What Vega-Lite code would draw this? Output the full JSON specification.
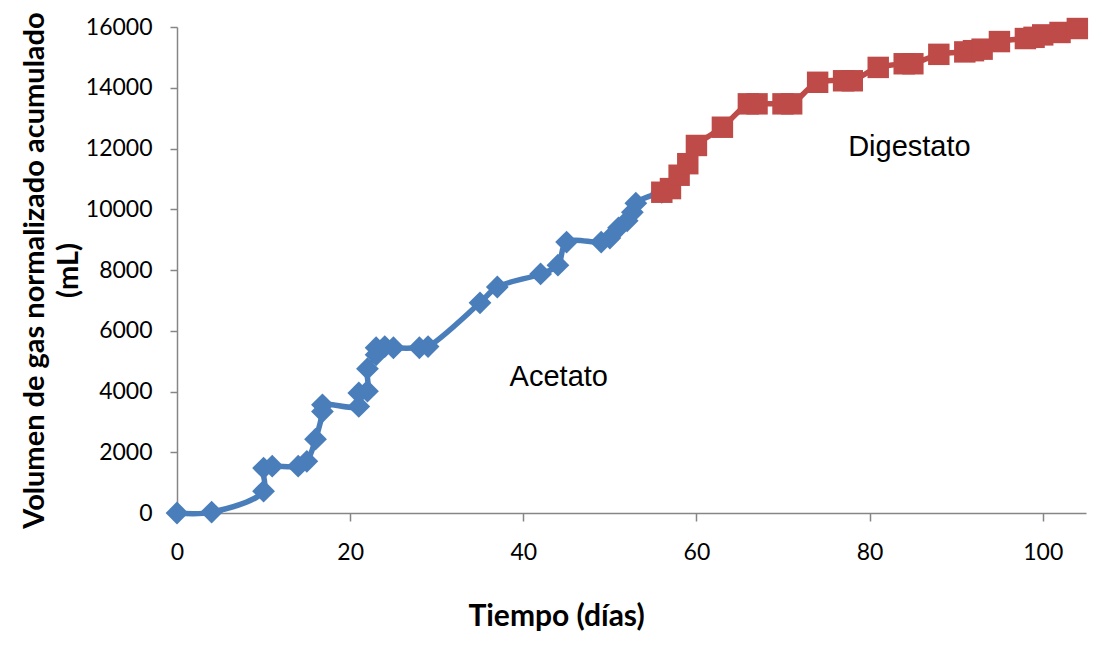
{
  "$schema": "https://vega.github.io/schema/vega-lite/v6.json",
  "width": 909,
  "height": 486,
  "autosize": {"type": "none"},
  "padding": {"left": 177, "top": 27, "right": 25, "bottom": 140},
  "background": "white",
  "config": {"view": {"stroke": null}, "font": "Lato"},
  "datasets": {
    "series": [
      {"serie": "Acetato", "dia": 0, "vol": 0},
      {"serie": "Acetato", "dia": 4, "vol": 30},
      {"serie": "Acetato", "dia": 10, "vol": 720},
      {"serie": "Acetato", "dia": 10, "vol": 1480},
      {"serie": "Acetato", "dia": 11, "vol": 1540},
      {"serie": "Acetato", "dia": 14, "vol": 1540},
      {"serie": "Acetato", "dia": 15, "vol": 1700},
      {"serie": "Acetato", "dia": 16, "vol": 2430},
      {"serie": "Acetato", "dia": 16.8, "vol": 3340},
      {"serie": "Acetato", "dia": 16.8, "vol": 3560},
      {"serie": "Acetato", "dia": 21, "vol": 3510},
      {"serie": "Acetato", "dia": 21, "vol": 3950},
      {"serie": "Acetato", "dia": 22, "vol": 4010},
      {"serie": "Acetato", "dia": 22, "vol": 4750},
      {"serie": "Acetato", "dia": 23, "vol": 5210},
      {"serie": "Acetato", "dia": 23, "vol": 5440},
      {"serie": "Acetato", "dia": 24, "vol": 5480},
      {"serie": "Acetato", "dia": 25, "vol": 5440},
      {"serie": "Acetato", "dia": 28, "vol": 5440},
      {"serie": "Acetato", "dia": 29, "vol": 5480},
      {"serie": "Acetato", "dia": 35, "vol": 6920},
      {"serie": "Acetato", "dia": 37, "vol": 7440},
      {"serie": "Acetato", "dia": 42, "vol": 7870},
      {"serie": "Acetato", "dia": 44, "vol": 8160},
      {"serie": "Acetato", "dia": 45, "vol": 8920},
      {"serie": "Acetato", "dia": 49, "vol": 8920},
      {"serie": "Acetato", "dia": 50, "vol": 9050},
      {"serie": "Acetato", "dia": 51, "vol": 9390},
      {"serie": "Acetato", "dia": 52, "vol": 9620},
      {"serie": "Acetato", "dia": 52.6, "vol": 9900},
      {"serie": "Acetato", "dia": 53, "vol": 10200},
      {"serie": "Acetato", "dia": 56, "vol": 10560},
      {"serie": "Digestato", "dia": 56, "vol": 10560},
      {"serie": "Digestato", "dia": 57, "vol": 10680},
      {"serie": "Digestato", "dia": 58, "vol": 11120},
      {"serie": "Digestato", "dia": 59, "vol": 11500},
      {"serie": "Digestato", "dia": 60, "vol": 12100},
      {"serie": "Digestato", "dia": 63, "vol": 12700},
      {"serie": "Digestato", "dia": 66, "vol": 13470},
      {"serie": "Digestato", "dia": 67, "vol": 13470},
      {"serie": "Digestato", "dia": 70, "vol": 13470},
      {"serie": "Digestato", "dia": 71, "vol": 13470},
      {"serie": "Digestato", "dia": 74, "vol": 14180},
      {"serie": "Digestato", "dia": 77, "vol": 14230},
      {"serie": "Digestato", "dia": 78, "vol": 14230},
      {"serie": "Digestato", "dia": 81, "vol": 14670},
      {"serie": "Digestato", "dia": 84, "vol": 14790},
      {"serie": "Digestato", "dia": 85, "vol": 14790},
      {"serie": "Digestato", "dia": 88, "vol": 15100},
      {"serie": "Digestato", "dia": 91, "vol": 15180},
      {"serie": "Digestato", "dia": 92, "vol": 15220},
      {"serie": "Digestato", "dia": 93, "vol": 15270},
      {"serie": "Digestato", "dia": 95, "vol": 15520},
      {"serie": "Digestato", "dia": 98, "vol": 15620},
      {"serie": "Digestato", "dia": 99, "vol": 15660},
      {"serie": "Digestato", "dia": 100, "vol": 15740},
      {"serie": "Digestato", "dia": 102, "vol": 15820},
      {"serie": "Digestato", "dia": 104, "vol": 15950}
    ],
    "labels": [
      {"texto": "Acetato", "dia": 44.1, "vol": 4190},
      {"texto": "Digestato", "dia": 84.6, "vol": 11740}
    ]
  },
  "encoding": {
    "x": {
      "field": "dia",
      "type": "quantitative",
      "scale": {"domain": [0, 105], "nice": false},
      "axis": {
        "values": [0, 20, 40, 60, 80, 100],
        "grid": false,
        "title": "Tiempo (días)",
        "domainColor": "#868686",
        "tickColor": "#868686",
        "domainWidth": 1.5,
        "tickWidth": 1.5,
        "tickSize": 8,
        "labelFont": "Lato",
        "labelFontSize": 23,
        "labelColor": "#000000",
        "labelPadding": 38,
        "labelBaseline": "alphabetic",
        "labelFlush": false,
        "titleFont": "Lato",
        "titleFontSize": 30,
        "titleFontWeight": "bold",
        "titleColor": "#000000",
        "titleX": 379,
        "titleY": 112,
        "titleBaseline": "alphabetic",
        "titleAlign": "center"
      }
    },
    "y": {
      "field": "vol",
      "type": "quantitative",
      "scale": {"domain": [0, 16000], "nice": false},
      "axis": {
        "values": [0, 2000, 4000, 6000, 8000, 10000, 12000, 14000, 16000],
        "format": "d",
        "grid": false,
        "title": ["Volumen de gas normalizado acumulado", "(mL)"],
        "domainColor": "#868686",
        "tickColor": "#868686",
        "domainWidth": 1.5,
        "tickWidth": 1.5,
        "tickSize": 7,
        "labelFont": "Lato",
        "labelFontSize": 23,
        "labelColor": "#000000",
        "labelPadding": 18,
        "labelFlush": false,
        "titleFont": "Lato",
        "titleFontSize": 29,
        "titleFontWeight": "bold",
        "titleColor": "#000000",
        "titleX": -134,
        "titleY": 243,
        "titleAngle": 270,
        "titleBaseline": "alphabetic",
        "titleAlign": "center",
        "titleLineHeight": 34
      }
    }
  },
  "layer": [
    {
      "data": {"name": "series"},
      "transform": [{"filter": "datum.serie === 'Acetato'"}],
      "mark": {"type": "line", "strokeWidth": 5.5, "interpolate": "catmull-rom", "color": "#4A7EBB"},
      "encoding": {"order": {"value": null}}
    },
    {
      "data": {"name": "series"},
      "transform": [{"filter": "datum.serie === 'Acetato'"}],
      "mark": {"type": "point", "shape": "diamond", "filled": true, "opacity": 1, "size": 520, "color": "#4A7EBB"}
    },
    {
      "data": {"name": "series"},
      "transform": [{"filter": "datum.serie === 'Digestato'"}],
      "mark": {"type": "line", "strokeWidth": 5.5, "interpolate": "catmull-rom", "color": "#BE4B48"},
      "encoding": {"order": {"value": null}}
    },
    {
      "data": {"name": "series"},
      "transform": [{"filter": "datum.serie === 'Digestato'"}],
      "mark": {"type": "point", "shape": "square", "filled": true, "opacity": 1, "size": 460, "color": "#BE4B48"}
    },
    {
      "data": {"name": "labels"},
      "mark": {"type": "text", "font": "Liberation Sans", "fontSize": 29, "baseline": "alphabetic", "align": "center", "color": "#000000"},
      "encoding": {"text": {"field": "texto"}}
    }
  ]
}
